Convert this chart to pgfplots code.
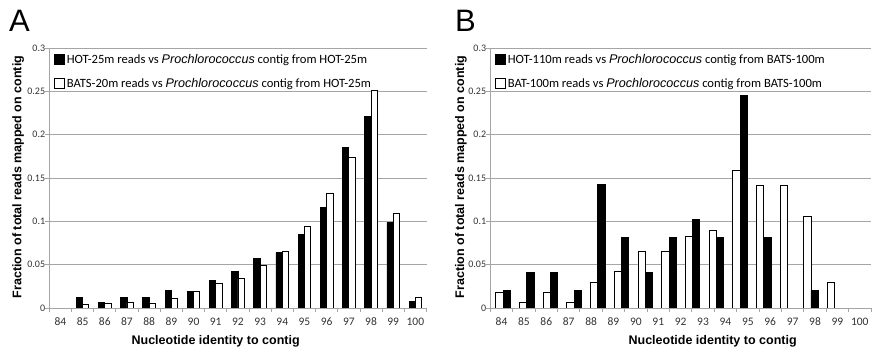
\documentclass[border=0pt]{standalone}
\usepackage{pgfplots}
\usepackage{pgfplotstable}
\pgfplotsset{compat=1.18}
\usepackage{fontspec}
\setmainfont{Carlito}
\newfontfamily\arialfont{Liberation Sans}
\definecolor{gridgray}{RGB}{165,165,165}

\pgfplotstableread{
x y
85 0.012
86 0.0065
87 0.012
88 0.012
89 0.020
90 0.019
91 0.0315
92 0.042
93 0.057
94 0.064
95 0.0846
96 0.1165
97 0.1853
98 0.2213
99 0.0985
100 0.0073
}\Ablack
\pgfplotstableread{
x y
85 0.0046
86 0.0054
87 0.0065
88 0.0058
89 0.0108
90 0.019
91 0.028
92 0.034
93 0.0496
94 0.065
95 0.0946
96 0.132
97 0.174
98 0.2516
99 0.1088
100 0.0123
}\Awhite
\pgfplotstableread{
x y
84.07 0.0185
85.13 0.0065
86.19 0.0185
87.24 0.0065
88.30 0.030
89.36 0.042
90.42 0.065
91.48 0.065
92.53 0.083
93.59 0.089
94.65 0.159
95.71 0.141
96.77 0.142
97.82 0.106
98.88 0.030
}\Bwhite
\pgfplotstableread{
x y
84.07 0.0204
85.13 0.0408
86.19 0.0408
87.24 0.0204
88.30 0.1429
89.36 0.0816
90.42 0.0408
91.48 0.0816
92.53 0.1020
93.59 0.0816
94.65 0.2449
95.71 0.0816
97.82 0.0204
}\Bblack

\pgfplotsset{
  panel/.style={
    scale only axis, height=260pt,
    ymin=0, ymax=0.3, xmin=83.5, xmax=100.5,
    axis x line*=bottom, axis y line*=left,
    axis line style={gridgray, line width=0.8pt},
    ytick={0,0.05,0.1,0.15,0.2,0.25,0.3},
    yticklabels={0,0.05,0.1,0.15,0.2,0.25,0.3},
    minor ytick={0,0.05,0.1,0.15,0.2,0.25,0.3},
    xtick={84,85,86,87,88,89,90,91,92,93,94,95,96,97,98,99,100},
    xticklabels={84,85,86,87,88,89,90,91,92,93,94,95,96,97,98,99,100},
    minor xtick={83.5,84.5,85.5,86.5,87.5,88.5,89.5,90.5,91.5,92.5,93.5,94.5,95.5,96.5,97.5,98.5,99.5,100.5},
    major tick length=0pt, minor tick length=4pt, tick align=outside,
    tick style={gridgray, line width=0.8pt},
    ymajorgrids, grid style={gridgray, line width=0.8pt},
    xticklabel style={font=\fontsize{11.5}{13}\selectfont\color{black!80}, anchor=base, yshift=-18pt},
    yticklabel style={font=\fontsize{10}{12}\selectfont\color{black!80}, anchor=east, inner sep=0pt, xshift=-4pt},
    label style={font=\arialfont\bfseries\fontsize{12.5}{14}\selectfont},
    legend style={draw=none, fill=none, font=\fontsize{12.6}{15}\selectfont, at={(axis description cs:0,1)}, anchor=north west, xshift=4pt, yshift=-4pt, row sep=9.5pt, inner sep=0pt},
    legend cell align=left,
  },
  blackbox/.style={legend image code/.code={\draw[fill=black, draw=black, line width=0.8pt] (0pt,-4.5pt) rectangle (10.5pt,5pt);}},
  whitebox/.style={legend image code/.code={\draw[fill=white, draw=black, line width=0.8pt] (0pt,-4.5pt) rectangle (10.5pt,5pt);}},
}

\begin{document}
\begin{tikzpicture}
\path[use as bounding box] (0pt,0pt) rectangle (882pt,352pt);
\node[anchor=base west, inner sep=0pt, font=\arialfont\fontsize{31}{33}\selectfont] at (9pt,320pt) {A};
\node[anchor=base west, inner sep=0pt, font=\arialfont\fontsize{31}{33}\selectfont] at (455pt,320pt) {B};

\begin{axis}[panel, width=377.2pt, at={(49.3pt,44pt)}, anchor=south west,
  xlabel={Nucleotide identity to contig}, ylabel={Fraction of total reads mapped on contig},
  xlabel style={at={(axis description cs:0.441,-0.127)}, anchor=center},
  ylabel style={at={(axis description cs:-0.0822,0.504)}, anchor=center},
]
\addlegendimage{blackbox}
\addlegendentry{HOT-25m reads vs {\arialfont\itshape Prochlorococcus} contig from HOT-25m}
\addlegendimage{whitebox}
\addlegendentry{BATS-20m reads vs {\arialfont\itshape Prochlorococcus} contig from HOT-25m}
\addplot[ybar, bar width=6.3pt, bar shift=-3.15pt, fill=black, draw=black, line width=0.8pt, forget plot] table[x=x,y=y] {\Ablack};
\addplot[ybar, bar width=6.3pt, bar shift=3.15pt, fill=white, draw=black, line width=0.8pt, forget plot] table[x=x,y=y] {\Awhite};
\end{axis}

\begin{axis}[panel, width=380.7pt, at={(490.3pt,44pt)}, anchor=south west,
  xlabel={Nucleotide identity to contig}, ylabel={Fraction of total reads mapped on contig},
  xlabel style={at={(axis description cs:0.584,-0.127)}, anchor=center},
  ylabel style={at={(axis description cs:-0.077,0.504)}, anchor=center},
]
\addlegendimage{blackbox}
\addlegendentry{HOT-110m reads vs {\arialfont\itshape Prochlorococcus} contig from BATS-100m}
\addlegendimage{whitebox}
\addlegendentry{BAT-100m reads vs {\arialfont\itshape Prochlorococcus} contig from BATS-100m}
\addplot[ybar, bar width=7.3pt, bar shift=-3.65pt, fill=white, draw=black, line width=0.8pt, forget plot] table[x=x,y=y] {\Bwhite};
\addplot[ybar, bar width=7.3pt, bar shift=3.65pt, fill=black, draw=black, line width=0.8pt, forget plot] table[x=x,y=y] {\Bblack};
\end{axis}
\end{tikzpicture}
\end{document}
